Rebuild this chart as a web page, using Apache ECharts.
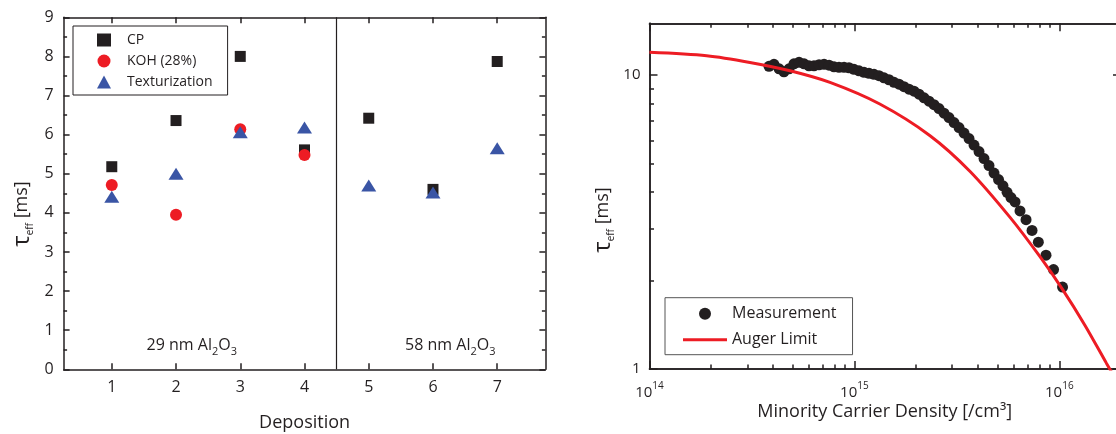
<!DOCTYPE html>
<html>
<head>
<meta charset="utf-8">
<script src="https://cdn.jsdelivr.net/npm/echarts@6/dist/echarts.min.js"></script>
<style>
  html, body { margin: 0; padding: 0; background: #fff; }
  #chart { width: 1116px; height: 434px; }
</style>
</head>
<body>
<div id="chart"></div>
<script>
// left panel: lifetime per deposition
const depositions = [1, 2, 3, 4, 5, 6, 7];
const cpValues = [5.18, 6.36, 8.0, 5.61, 6.42, 4.6, 7.87];
const kohDepositions = [1, 2, 3, 4];
const kohValues = [4.71, 3.95, 6.14, 5.48];
const texValues = [4.41, 5.0, 6.06, 6.18, 4.7, 4.52, 5.65];
const dividerAt = 4.5;

// right panel: lifetime vs injection
const measDensity = [3.83e14, 4.05e14, 4.29e14, 4.53e14, 4.80e14, 5.07e14, 5.37e14, 5.68e14, 6.00e14, 6.35e14,
  6.72e14, 7.11e14, 7.52e14, 7.95e14, 8.41e14, 8.90e14, 9.41e14, 9.95e14, 1.053e15, 1.114e15,
  1.178e15, 1.246e15, 1.318e15, 1.394e15, 1.475e15, 1.561e15, 1.651e15, 1.746e15, 1.847e15, 1.954e15,
  2.067e15, 2.187e15, 2.313e15, 2.446e15, 2.588e15, 2.737e15, 2.895e15, 3.063e15, 3.240e15, 3.427e15,
  3.625e15, 3.834e15, 4.056e15, 4.290e15, 4.538e15, 4.800e15, 5.05e15, 5.31e15, 5.56e15, 5.81e15,
  6.08e15, 6.43e15, 6.88e15, 7.36e15, 7.90e15, 8.61e15, 9.37e15, 1.037e16];
const measTau = [10.71, 10.88, 10.50, 10.26, 10.50, 10.92, 11.05, 10.92, 10.75, 10.75,
  10.84, 10.88, 10.80, 10.67, 10.63, 10.63, 10.59, 10.46, 10.34, 10.22,
  10.14, 10.06, 9.95, 9.79, 9.64, 9.45, 9.31, 9.13, 8.95, 8.81,
  8.61, 8.37, 8.15, 7.93, 7.69, 7.42, 7.17, 6.89, 6.63, 6.35,
  6.08, 5.78, 5.49, 5.20, 4.92, 4.64, 4.41, 4.20, 3.99, 3.83,
  3.70, 3.45, 3.22, 2.96, 2.70, 2.44, 2.18, 1.90];
const augerDensity = [1e14, 1.9e14, 3.09e14, 4.85e14, 7.6e14, 1.33e15, 2.34e15, 3.67e15, 5.75e15, 8.05e15, 1.031e16, 1.335e16, 1.70e16, 1.98e16];
const augerTau = [11.95, 11.63, 11.04, 10.34, 9.44, 7.97, 6.22, 4.70, 3.28, 2.41, 1.876, 1.407, 1.045, 0.869];

const densityMajor = [1e14, 1e15, 1e16];
const densityMinor = [2e14, 3e14, 4e14, 5e14, 6e14, 7e14, 8e14, 9e14, 2e15, 3e15, 4e15, 5e15, 6e15, 7e15, 8e15, 9e15];
const tauMajor = [1, 10];
const tauMinor = [2, 3, 4, 5, 6, 7, 8, 9];

const ink = '#231f20';
const red = '#ed1c24';
const blue = '#3a55a5';
const font = 'Open Sans';

const zip = (xs, ys) => xs.map((x, i) => [x, ys[i]]);

const lineStyle = { color: ink, width: 1.5 };

// one axis per frame side; extra copies carry the short minor ticks
function linAxisX(pos, labels) {
  return {
    gridIndex: 0, type: 'value', position: pos, min: 0.25, max: 7.75,
    axisLine: { show: true, onZero: false, lineStyle },
    axisTick: { show: true, inside: true, length: 6, lineStyle, customValues: depositions },
    axisLabel: { show: labels, customValues: depositions, margin: 10, fontSize: 16, color: ink, fontFamily: font },
    splitLine: { show: false }
  };
}
function linAxisY(pos, labels) {
  return {
    gridIndex: 0, type: 'value', position: pos, min: 0, max: 9, interval: 1,
    axisLine: { show: true, onZero: false, lineStyle },
    axisTick: { show: true, inside: true, length: 6, lineStyle },
    minorTick: { show: true, splitNumber: 2, length: 3.5, lineStyle },
    axisLabel: { show: labels, margin: 10, fontSize: 16, color: ink, fontFamily: font },
    splitLine: { show: false }
  };
}
function logAxisX(pos, ticks, len, labels) {
  return {
    gridIndex: 1, type: 'log', logBase: 10, position: pos, min: 1e14, max: 2e16,
    axisLine: { show: true, onZero: false, lineStyle },
    axisTick: { show: true, inside: true, length: len, lineStyle, customValues: ticks },
    axisLabel: {
      show: labels, customValues: ticks, margin: 12, color: ink, fontFamily: font,
      formatter: v => '{b|10}{s|' + Math.round(Math.log10(v)) + '}',
      rich: {
        b: { fontSize: 15, lineHeight: 24, fontFamily: font, color: ink },
        s: { fontSize: 10, lineHeight: 6, verticalAlign: 'top', fontFamily: font, color: ink }
      }
    },
    splitLine: { show: false }
  };
}
function logAxisY(pos, ticks, len, labels) {
  return {
    gridIndex: 1, type: 'log', logBase: 10, position: pos, min: 1, max: 15,
    axisLine: { show: true, onZero: false, lineStyle },
    axisTick: { show: true, inside: true, length: len, lineStyle, customValues: ticks },
    axisLabel: { show: labels, customValues: ticks, margin: 9, fontSize: 15, color: ink, fontFamily: font },
    splitLine: { show: false }
  };
}

const chart = echarts.init(document.getElementById('chart'));

const option = {
  animation: false,
  textStyle: { fontFamily: font },
  grid: [
    { left: 63.6, top: 17.3, width: 481.8, height: 352, outerBoundsMode: 'none' },
    { left: 649.5, top: 23.3, width: 471.5, height: 345.7, outerBoundsMode: 'none' }
  ],
  xAxis: [
    linAxisX('bottom', true),
    linAxisX('top', false),
    logAxisX('bottom', densityMajor, 8, true),
    logAxisX('bottom', densityMinor, 4.5, false),
    logAxisX('top', densityMajor, 8, false),
    logAxisX('top', densityMinor, 4.5, false)
  ],
  yAxis: [
    linAxisY('left', true),
    linAxisY('right', false),
    logAxisY('left', tauMajor, 8, true),
    logAxisY('left', tauMinor, 4.5, false),
    logAxisY('right', tauMajor, 8, false),
    logAxisY('right', tauMinor, 4.5, false)
  ],
  legend: [
    {
      left: 73, top: 26, orient: 'vertical',
      data: ['CP', 'KOH (28%)', 'Texturization'],
      borderColor: ink, borderWidth: 1, borderRadius: 0,
      padding: [7, 15, 6, 24], itemGap: 7, itemWidth: 14, itemHeight: 13,
      textStyle: { fontSize: 14, color: ink, fontFamily: font, padding: [0, 0, 0, 11] }
    },
    {
      left: 665, top: 297.7, orient: 'vertical',
      data: ['Measurement', { name: 'Auger Limit', icon: 'path://M0 0H100V7H0Z' }],
      symbolKeepAspect: true,
      borderColor: '#555', borderWidth: 1, borderRadius: 0,
      padding: [8, 16, 7, 18], itemGap: 10, itemWidth: 44, itemHeight: 12,
      textStyle: { fontSize: 16, color: ink, fontFamily: font }
    }
  ],
  series: [
    {
      name: 'CP', type: 'scatter', xAxisIndex: 0, yAxisIndex: 0,
      symbol: 'rect', symbolSize: 11, itemStyle: { color: ink, opacity: 1 },
      data: zip(depositions, cpValues),
      markLine: {
        silent: true, symbol: 'none', label: { show: false },
        lineStyle: { color: ink, type: 'solid', width: 1.2 },
        data: [{ xAxis: dividerAt }]
      }
    },
    {
      name: 'KOH (28%)', type: 'scatter', xAxisIndex: 0, yAxisIndex: 0,
      symbol: 'circle', symbolSize: 12, itemStyle: { color: red, opacity: 1 },
      data: zip(kohDepositions, kohValues)
    },
    {
      name: 'Texturization', type: 'scatter', xAxisIndex: 0, yAxisIndex: 0,
      symbol: 'triangle', symbolSize: [15, 12], itemStyle: { color: blue, opacity: 1 },
      data: zip(depositions, texValues)
    },
    {
      name: 'Measurement', type: 'scatter', xAxisIndex: 2, yAxisIndex: 2,
      symbol: 'circle', symbolSize: 11, itemStyle: { color: ink, opacity: 1 },
      data: zip(measDensity, measTau)
    },
    {
      name: 'Auger Limit', type: 'line', xAxisIndex: 2, yAxisIndex: 2,
      symbol: 'none', smooth: 0.3, clip: true,
      lineStyle: { color: red, width: 3 }, itemStyle: { color: red },
      data: zip(augerDensity, augerTau)
    }
  ],
  graphic: [
    {
      type: 'text', x: 191.8, y: 345,
      style: {
        text: '{m|29 nm Al}{s|2}{m|O}{s|3}', align: 'center', verticalAlign: 'middle',
        rich: {
          m: { fontSize: 16, lineHeight: 24, fill: ink, fontFamily: font },
          s: { fontSize: 11, lineHeight: 8, verticalAlign: 'bottom', fill: ink, fontFamily: font }
        }
      }
    },
    {
      type: 'text', x: 450.3, y: 345,
      style: {
        text: '{m|58 nm Al}{s|2}{m|O}{s|3}', align: 'center', verticalAlign: 'middle',
        rich: {
          m: { fontSize: 16, lineHeight: 24, fill: ink, fontFamily: font },
          s: { fontSize: 11, lineHeight: 8, verticalAlign: 'bottom', fill: ink, fontFamily: font }
        }
      }
    },
    {
      type: 'text', x: 304.6, y: 423,
      style: { text: 'Deposition', align: 'center', verticalAlign: 'middle', fontSize: 18, fill: ink, fontFamily: font }
    },
    {
      type: 'text', x: 22, y: 214, rotation: Math.PI / 2,
      style: {
        text: '{t|τ}{e|eff}{m| [ms]}', align: 'center', verticalAlign: 'middle',
        rich: {
          t: { fontSize: 24, lineHeight: 26, fill: ink, fontFamily: font },
          e: { fontSize: 10, lineHeight: 6, verticalAlign: 'bottom', fill: ink, fontFamily: font },
          m: { fontSize: 18, lineHeight: 26, fill: ink, fontFamily: font }
        }
      }
    },
    {
      type: 'text', x: 603, y: 220, rotation: Math.PI / 2,
      style: {
        text: '{t|τ}{e|eff}{m| [ms]}', align: 'center', verticalAlign: 'middle',
        rich: {
          t: { fontSize: 24, lineHeight: 26, fill: ink, fontFamily: font },
          e: { fontSize: 10, lineHeight: 6, verticalAlign: 'bottom', fill: ink, fontFamily: font },
          m: { fontSize: 18, lineHeight: 26, fill: ink, fontFamily: font }
        }
      }
    },
    {
      type: 'text', x: 884.7, y: 412,
      style: { text: 'Minority Carrier Density [/cm³]', align: 'center', verticalAlign: 'middle', fontSize: 18, fill: ink, fontFamily: font }
    }
  ]
};

chart.setOption(option);
</script>
</body>
</html>
